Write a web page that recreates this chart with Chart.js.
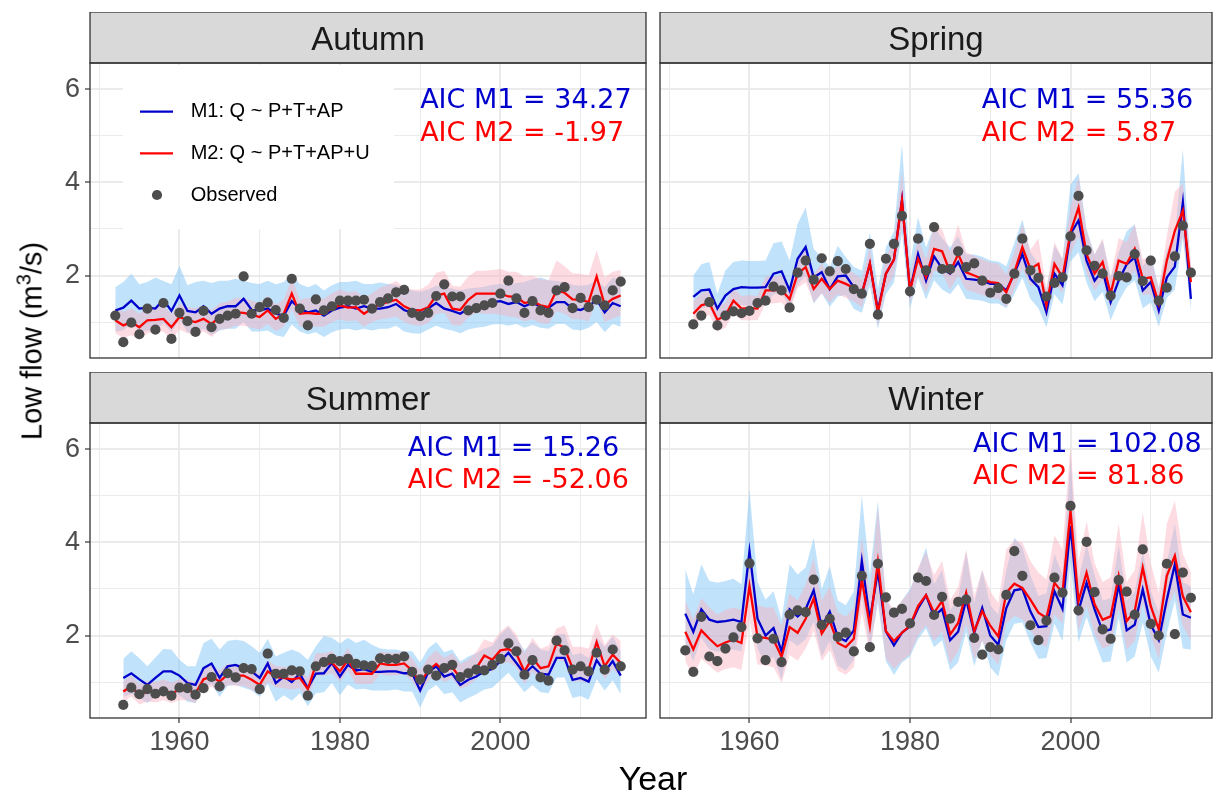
<!DOCTYPE html>
<html>
<head>
<meta charset="utf-8">
<script src="https://cdn.jsdelivr.net/npm/chart.js@4.4.1/dist/chart.umd.min.js"></script>
<style>
  html, body { margin: 0; padding: 0; background: #ffffff; overflow: hidden; }
  #wrap { position: relative; width: 1213px; height: 795px; overflow: hidden; background: #ffffff;
          font-family: "Liberation Sans", Arial, sans-serif; }
  #wrap canvas { position: absolute; }
  #ytitle { position: absolute; left: 32px; top: 341px; transform: translate(-50%, -50%) rotate(-90deg);
            white-space: nowrap; font-size: 29px; line-height: 29px; color: #000; }
  #ytitle sup { font-size: 0.7em; line-height: 0; }
  #xtitle { position: absolute; left: 653px; top: 761px; transform: translateX(-50%);
            font-size: 34px; line-height: 34px; color: #000; white-space: nowrap; }
</style>
</head>
<body>
<div id="wrap">
  <canvas id="c0"></canvas>
  <canvas id="c1"></canvas>
  <canvas id="c2"></canvas>
  <canvas id="c3"></canvas>
  <div id="ytitle">Low flow (m<sup>3</sup>/s)</div>
  <div id="xtitle">Year</div>
</div>
<script>
// ---- data -------------------------------------------------------------
const years = [];
for (let y = 1952; y <= 2015; y++) years.push(y);

const seasons = ['Autumn', 'Spring', 'Summer', 'Winter'];
const aicM1 = [34.27, 55.36, 15.26, 102.08];
const aicM2 = [-1.97, 5.87, -52.06, 81.86];

const xGrid = [1950, 1960, 1970, 1980, 1990, 2000, 2010];
const yGrid = [1, 2, 3, 4, 5, 6];

// Autumn
const autumnObs = [
  1.14,0.57,0.99,0.74,1.29,0.84,1.41,0.64,1.20,1.02,
  0.79,1.24,0.89,1.07,1.14,1.18,1.98,1.18,1.32,1.42,
  1.26,1.09,1.93,1.29,0.93,1.49,1.25,1.34,1.46,1.46,
  1.46,1.48,1.29,1.43,1.51,1.64,1.69,1.20,1.13,1.20,
  1.56,1.81,1.55,1.55,1.25,1.30,1.36,1.41,1.61,1.89,
  1.51,1.20,1.45,1.25,1.20,1.68,1.75,1.30,1.52,1.32,
  1.48,1.36,1.68,1.87];
const autumnM1 = [
  1.25,1.31,1.46,1.29,1.31,1.29,1.48,1.24,1.57,1.24,
  1.21,1.34,1.18,1.29,1.34,1.34,1.50,1.26,1.25,1.29,
  1.18,1.14,1.45,1.29,1.21,1.25,1.14,1.25,1.31,1.34,
  1.29,1.34,1.29,1.29,1.32,1.39,1.26,1.20,1.16,1.29,
  1.41,1.29,1.24,1.18,1.29,1.34,1.37,1.43,1.45,1.39,
  1.43,1.34,1.41,1.34,1.31,1.43,1.43,1.29,1.26,1.34,
  1.48,1.21,1.41,1.34];
const autumnM2 = [
  1.04,0.93,1.00,0.89,1.04,1.05,1.07,0.89,1.11,1.04,
  1.00,1.07,0.96,1.11,1.14,1.21,1.20,1.16,1.11,1.25,
  1.07,1.18,1.61,1.18,1.20,1.18,1.18,1.29,1.36,1.31,
  1.32,1.18,1.29,1.39,1.43,1.48,1.34,1.26,1.25,1.32,
  1.57,1.61,1.29,1.26,1.48,1.61,1.61,1.61,1.61,1.55,
  1.54,1.41,1.45,1.36,1.32,1.68,1.63,1.49,1.48,1.43,
  1.98,1.37,1.50,1.57];
const autumnM1Lo = [
  0.80,0.82,0.98,0.80,0.82,0.80,0.98,0.78,1.05,0.78,
  0.76,0.86,0.72,0.82,0.86,0.86,1.00,0.80,0.80,0.82,
  0.72,0.68,0.95,0.80,0.74,0.78,0.68,0.78,0.84,0.86,
  0.82,0.86,0.82,0.86,0.86,0.92,0.80,0.76,0.75,0.84,
  0.92,0.86,0.82,0.76,0.84,0.88,0.90,0.95,0.96,0.92,
  0.96,0.88,0.94,0.88,0.86,0.96,0.96,0.84,0.82,0.88,
  1.00,0.78,0.96,0.90];
const autumnM1Hi = [
  1.75,1.86,2.04,1.81,1.86,1.96,1.88,1.81,2.21,1.79,
  1.86,1.89,1.84,1.89,1.89,1.93,1.89,1.84,1.82,1.89,
  1.81,1.86,2.04,1.82,1.75,1.82,1.68,1.79,1.86,1.86,
  1.89,1.82,1.82,1.85,1.82,1.80,1.72,1.68,1.65,1.70,
  1.78,1.75,1.72,1.68,1.72,1.74,1.76,1.80,1.82,1.80,
  1.84,1.86,1.92,1.96,1.90,1.88,1.86,1.80,1.78,1.80,
  1.90,1.75,1.96,1.92];
const autumnM2Lo = [
  0.76,0.66,0.72,0.62,0.76,0.78,0.80,0.62,0.84,0.76,
  0.72,0.80,0.68,0.84,0.86,0.92,0.92,0.88,0.84,0.96,
  0.80,0.90,1.28,0.90,0.92,0.90,0.90,1.00,1.06,1.02,
  1.04,0.90,1.00,1.06,1.08,1.12,1.00,0.94,0.92,0.98,
  1.18,1.20,0.94,0.92,1.10,1.20,1.18,1.18,1.16,1.12,
  1.10,1.02,1.06,0.98,0.96,1.24,1.18,1.06,1.06,1.02,
  1.46,1.00,1.08,1.14];
const autumnM2Hi = [
  1.32,1.22,1.30,1.18,1.32,1.34,1.36,1.18,1.40,1.32,
  1.30,1.36,1.26,1.40,1.44,1.52,1.52,1.46,1.42,1.56,
  1.38,1.48,1.95,1.48,1.52,1.50,1.50,1.62,1.70,1.64,
  1.66,1.52,1.62,1.74,1.80,1.88,1.76,1.70,1.70,1.80,
  2.06,2.10,1.78,1.76,1.98,2.10,2.10,2.12,2.14,2.08,
  2.08,1.98,2.00,1.92,1.90,2.32,2.20,2.05,2.04,2.00,
  2.54,1.96,2.08,2.12];

// Spring (series starts in 1953)
const springObs = [
  null,0.95,1.14,1.43,0.93,1.14,1.23,1.19,1.24,1.41,
  1.46,1.76,1.68,1.31,2.06,2.32,1.91,2.37,2.09,2.31,
  2.14,1.71,1.61,2.68,1.16,2.36,2.68,3.28,1.66,2.79,
  2.11,3.04,2.14,2.14,2.52,2.18,2.26,1.89,1.63,1.73,
  1.50,2.04,2.79,2.11,1.95,1.55,1.84,1.96,2.84,3.71,
  2.54,2.21,2.04,1.57,1.99,1.96,2.46,1.88,2.32,1.46,
  1.74,2.41,3.07,2.06];
const springM1 = [
  null,1.54,1.68,1.70,1.29,1.57,1.71,1.75,1.74,1.74,
  1.75,2.04,2.09,1.68,2.36,2.61,1.96,2.07,1.71,1.98,
  2.00,1.75,1.61,2.25,1.25,2.04,2.34,3.62,1.68,2.46,
  1.89,2.41,2.15,2.04,2.29,1.93,1.91,1.89,1.82,1.82,
  1.68,2.04,2.46,1.93,1.75,1.21,2.04,1.79,2.89,3.18,
  2.32,1.89,2.11,1.43,1.89,2.24,2.39,1.68,1.86,1.25,
  1.96,2.19,3.57,1.50];
const springM2 = [
  null,1.18,1.36,1.41,1.05,1.14,1.46,1.29,1.30,1.29,
  1.68,1.68,1.69,1.49,2.04,2.18,1.71,1.93,1.71,1.89,
  1.82,1.73,1.61,2.26,1.21,2.04,2.34,3.61,1.68,2.36,
  1.96,2.57,2.52,2.07,2.46,2.07,2.00,1.93,1.86,1.84,
  1.64,2.07,2.61,2.14,2.25,1.36,2.25,1.96,2.93,3.46,
  2.46,2.04,2.29,1.61,2.32,2.25,2.57,1.93,1.96,1.39,
  2.32,2.96,3.39,1.86];
const springM1Lo = [
  null,1.18,1.30,1.33,0.93,1.20,1.32,1.36,1.35,1.35,
  1.36,1.60,1.63,1.30,1.80,2.00,1.40,1.62,1.33,1.55,
  1.58,1.28,1.20,1.78,0.86,1.60,1.85,2.90,1.28,1.95,
  1.48,1.90,1.70,1.60,1.82,1.50,1.48,1.46,1.40,1.40,
  1.30,1.60,1.95,1.50,1.30,0.89,1.60,1.38,2.30,2.50,
  1.85,1.45,1.65,1.04,1.45,1.75,1.90,1.30,1.42,0.90,
  1.52,1.70,2.80,1.25];
const springM1Hi = [
  null,2.00,2.24,2.29,1.61,2.11,2.29,2.32,2.31,2.31,
  2.32,2.69,2.73,2.32,3.11,3.46,2.57,2.39,2.18,2.64,
  2.39,2.18,2.11,2.93,1.72,2.60,2.95,4.82,2.25,3.25,
  2.60,3.05,2.80,2.60,2.85,2.45,2.45,2.40,2.32,2.30,
  2.20,2.70,3.20,2.50,2.25,1.70,2.65,2.35,3.95,4.20,
  3.00,2.45,2.75,1.95,2.50,2.95,3.10,2.20,2.45,1.75,
  2.55,2.85,4.71,2.10];
const springM2Lo = [
  null,0.92,1.10,1.16,0.80,0.88,1.20,1.04,1.04,1.04,
  1.40,1.40,1.42,1.22,1.74,1.85,1.42,1.62,1.42,1.60,
  1.52,1.44,1.32,1.92,0.92,1.70,2.00,3.05,1.40,2.00,
  1.62,2.10,2.05,1.70,2.00,1.70,1.64,1.58,1.52,1.50,
  1.32,1.70,2.15,1.78,1.80,1.05,1.85,1.62,2.45,2.85,
  2.05,1.68,1.90,1.28,1.90,1.85,2.10,1.58,1.60,1.08,
  1.85,2.30,2.85,1.50];
const springM2Hi = [
  null,1.45,1.62,1.68,1.32,1.42,1.74,1.56,1.58,1.56,
  1.98,1.98,2.00,1.78,2.38,2.55,2.02,2.26,2.02,2.22,
  2.15,2.05,1.92,2.62,1.50,2.40,2.75,4.25,2.00,2.80,
  2.35,3.10,3.00,2.50,3.10,2.50,2.42,2.35,2.28,2.25,
  2.02,2.50,3.10,2.55,2.80,1.72,2.72,2.36,3.45,4.12,
  2.95,2.45,2.80,1.98,2.80,2.72,3.10,2.35,2.40,1.72,
  2.85,3.80,3.98,2.30];

// Summer (series starts in 1953)
const summerObs = [
  null,0.51,0.88,0.74,0.85,0.75,0.80,0.71,0.88,0.87,
  0.73,0.87,1.11,0.91,1.19,1.10,1.30,1.28,0.85,1.61,
  1.18,1.18,1.25,1.23,0.71,1.34,1.43,1.50,1.45,1.50,
  1.39,1.36,1.35,1.51,1.50,1.50,1.55,1.22,1.06,1.27,
  1.14,1.30,1.37,1.11,1.19,1.27,1.25,1.37,1.50,1.83,
  1.66,1.16,1.47,1.10,1.03,1.89,1.68,1.27,1.34,1.23,
  1.63,1.27,1.70,1.34];
const summerM1 = [
  null,1.09,1.19,1.06,0.94,1.09,1.23,1.23,1.14,0.98,
  0.94,1.30,1.40,1.09,1.34,1.37,1.30,1.23,1.09,1.40,
  0.98,1.12,1.00,1.18,0.87,1.18,1.19,1.41,1.12,1.37,
  1.25,1.28,1.22,1.22,1.23,1.23,1.19,1.19,0.82,1.21,
  1.34,1.12,1.18,0.94,1.05,1.12,1.23,1.28,1.45,1.63,
  1.41,1.18,1.34,1.18,1.16,1.52,1.52,1.05,1.09,1.01,
  1.47,1.22,1.45,1.14];
const summerM2 = [
  null,0.80,0.91,0.73,0.80,0.78,0.83,0.76,0.83,0.83,
  0.76,1.06,1.12,1.01,1.16,1.14,1.14,1.05,0.94,1.23,
  1.11,1.09,1.06,1.09,0.85,1.37,1.37,1.42,1.23,1.48,
  1.18,1.18,1.18,1.40,1.37,1.37,1.40,1.25,0.98,1.25,
  1.39,1.23,1.32,1.09,1.16,1.30,1.57,1.48,1.68,1.71,
  1.61,1.23,1.52,1.30,1.34,1.83,1.73,1.30,1.30,1.27,
  1.86,1.34,1.59,1.41];
const summerM1Lo = [
  null,0.68,0.75,0.66,0.55,0.68,0.80,0.80,0.72,0.58,
  0.55,0.88,0.96,0.68,0.92,0.94,0.88,0.82,0.68,0.96,
  0.58,0.72,0.60,0.76,0.48,0.76,0.78,0.98,0.72,0.95,
  0.84,0.86,0.82,0.82,0.82,0.84,0.80,0.80,0.45,0.82,
  0.94,0.74,0.78,0.56,0.66,0.74,0.84,0.88,1.04,1.20,
  1.00,0.78,0.94,0.78,0.76,1.10,1.10,0.66,0.70,0.62,
  1.06,0.82,1.04,0.74];
const summerM1Hi = [
  null,1.50,1.66,1.51,1.34,1.53,1.71,1.70,1.48,1.34,
  1.34,1.84,1.93,1.70,1.88,1.91,1.88,1.77,1.63,1.93,
  1.55,1.63,1.70,1.63,1.48,1.77,1.99,1.95,1.83,1.95,
  1.84,1.91,1.80,1.72,1.70,1.70,1.66,1.66,1.42,1.72,
  1.86,1.64,1.70,1.44,1.55,1.62,1.72,1.78,2.02,2.19,
  1.94,1.68,1.86,1.70,1.66,2.02,2.04,1.58,1.62,1.52,
  1.98,1.75,1.98,1.66];
const summerM2Lo = [
  null,0.58,0.69,0.52,0.58,0.56,0.61,0.55,0.61,0.61,
  0.55,0.84,0.90,0.79,0.94,0.92,0.92,0.84,0.73,1.00,
  0.89,0.87,0.84,0.87,0.64,1.14,1.14,1.19,1.01,1.25,
  0.96,0.96,0.96,1.17,1.14,1.14,1.17,1.02,0.76,1.02,
  1.15,1.00,1.08,0.86,0.93,1.06,1.30,1.22,1.40,1.42,
  1.32,0.96,1.22,1.02,1.06,1.50,1.42,1.02,1.02,0.98,
  1.52,1.06,1.28,1.12];
const summerM2Hi = [
  null,1.02,1.14,0.96,1.03,1.00,1.06,0.99,1.06,1.06,
  0.99,1.30,1.36,1.25,1.40,1.38,1.38,1.29,1.18,1.47,
  1.35,1.33,1.30,1.33,1.09,1.62,1.62,1.67,1.48,1.73,
  1.43,1.43,1.43,1.66,1.63,1.63,1.66,1.52,1.25,1.53,
  1.68,1.52,1.62,1.39,1.48,1.65,1.92,1.85,2.08,2.22,
  2.02,1.62,1.95,1.72,1.78,2.15,2.22,1.76,1.76,1.72,
  2.25,1.80,2.02,1.88];

// Winter
const winterObs = [
  1.68,1.22,2.40,1.55,1.45,1.72,1.96,2.18,3.55,1.94,
  1.47,1.93,1.43,2.45,2.54,2.50,3.20,2.23,2.36,1.97,
  2.06,1.66,3.28,1.75,3.54,2.82,2.49,2.57,2.26,3.24,
  3.17,2.44,2.83,2.36,2.72,2.77,1.95,1.59,1.75,1.70,
  2.87,3.81,3.28,2.22,1.90,2.32,3.24,2.92,4.78,2.54,
  4.01,2.93,2.13,1.93,3.19,2.94,2.45,3.85,2.25,2.00,
  3.54,2.03,3.35,2.81];
const winterM1 = [
  2.47,2.08,2.56,2.34,2.29,2.31,2.34,2.29,3.81,2.36,
  2.00,2.16,1.66,2.56,2.41,2.57,2.97,2.18,2.51,1.97,
  1.88,2.11,3.60,2.34,3.38,2.09,1.79,2.06,2.20,2.58,
  2.86,2.41,2.57,1.90,2.08,2.77,2.06,2.59,2.00,1.80,
  2.59,2.97,3.00,2.52,2.18,2.20,2.95,2.57,4.35,2.54,
  3.13,2.56,2.09,2.13,3.10,2.11,2.23,2.99,2.23,1.90,
  2.77,3.53,2.45,2.38];
const winterM2 = [
  2.08,1.70,2.11,1.93,1.77,1.85,1.91,1.84,3.06,1.97,
  1.95,1.91,1.54,2.18,2.06,2.36,2.79,2.04,2.31,1.84,
  1.75,1.93,3.20,2.20,3.58,2.09,1.88,2.06,2.21,2.63,
  2.87,2.49,2.74,2.02,2.27,2.92,2.09,2.52,2.21,1.98,
  2.92,3.11,3.02,2.77,2.49,2.38,3.13,2.92,4.68,2.74,
  3.35,2.67,2.34,2.41,3.28,2.31,2.52,3.46,2.63,2.13,
  3.28,3.71,2.84,2.50];
const winterM1Lo = [
  1.85,1.45,1.95,1.70,1.65,1.68,1.70,1.66,3.00,1.72,
  1.38,1.55,1.05,1.90,1.78,1.92,2.30,1.55,1.88,1.35,
  1.25,1.48,2.85,1.70,2.70,1.45,1.15,1.42,1.55,1.92,
  2.15,1.75,1.90,1.25,1.42,2.08,1.34,1.90,1.32,1.12,
  1.90,2.25,2.28,1.85,1.50,1.52,2.25,1.88,3.55,1.85,
  2.40,1.88,1.42,1.45,2.38,1.42,1.55,2.28,1.55,1.20,
  2.05,2.75,1.72,1.70];
const winterM1Hi = [
  3.42,2.88,3.53,3.17,3.13,3.17,3.22,3.10,5.14,3.15,
  2.77,2.95,2.34,3.53,3.31,3.46,4.10,2.99,3.49,2.75,
  2.65,2.95,5.00,3.30,4.89,2.80,2.45,2.75,3.00,3.40,
  3.89,3.10,3.40,2.55,2.80,3.80,2.70,3.40,2.65,2.45,
  3.40,4.10,3.90,3.30,2.85,2.90,3.75,3.30,5.80,3.20,
  3.95,3.30,2.75,2.80,3.95,2.75,2.95,3.80,2.95,2.50,
  3.55,4.40,3.15,3.05];
const winterM2Lo = [
  1.45,1.12,1.50,1.35,1.20,1.28,1.32,1.26,2.35,1.38,
  1.36,1.32,0.98,1.58,1.46,1.72,2.10,1.45,1.70,1.25,
  1.16,1.32,2.50,1.60,2.80,1.50,1.28,1.46,1.60,2.00,
  2.22,1.88,2.08,1.40,1.66,2.25,1.48,1.88,1.58,1.38,
  2.25,2.42,2.35,2.12,1.85,1.75,2.45,2.25,3.80,2.10,
  2.65,2.02,1.72,1.78,2.58,1.70,1.88,2.70,2.00,1.50,
  2.55,2.95,2.20,1.90];
const winterM2Hi = [
  2.75,2.35,2.80,2.60,2.45,2.55,2.60,2.55,3.95,2.65,
  2.60,2.60,2.20,2.90,2.75,3.10,3.65,2.75,3.05,2.50,
  2.40,2.60,4.10,2.90,4.75,2.80,2.55,2.75,2.95,3.45,
  3.80,3.30,3.60,2.75,3.05,3.85,2.85,3.40,2.95,2.70,
  3.85,4.05,4.00,3.60,3.35,3.20,4.15,3.85,6.10,3.60,
  4.45,3.55,3.15,3.25,4.40,3.15,3.40,4.64,3.55,2.90,
  4.40,4.89,3.75,3.35];

// ---- layout -----------------------------------------------------------
const STRIP_H = 51, PLOT_H = 295;
const colLeft = [90, 660];
const colWidth = [556, 552];
const colXMax = [2018.15, 2017.63];
const rowTop = [63, 423];
const Y_MIN = 0.23, Y_MAX = 6.56, X_MIN = 1948.85;

const SANS = '"Liberation Sans", Arial, sans-serif';
const AIC_FONT = '"DejaVu Sans", Verdana, sans-serif';
const BLUE = '#0000CD', RED = '#FF0000', DOT = '#4D4D4D';
const LINE_W = 2.3, DOT_R = 5.1;

const panels = [
  { title: seasons[0], col: 0, row: 0, legend: true,
    obs: autumnObs, m1: autumnM1, m2: autumnM2,
    m1Lo: autumnM1Lo, m1Hi: autumnM1Hi, m2Lo: autumnM2Lo, m2Hi: autumnM2Hi,
    aic: 0, aicAt: [1990.0, 5.60, 4.89] },
  { title: seasons[1], col: 1, row: 0, legend: false,
    obs: springObs, m1: springM1, m2: springM2,
    m1Lo: springM1Lo, m1Hi: springM1Hi, m2Lo: springM2Lo, m2Hi: springM2Hi,
    aic: 1, aicAt: [1988.95, 5.60, 4.89] },
  { title: seasons[2], col: 0, row: 1, legend: false,
    obs: summerObs, m1: summerM1, m2: summerM2,
    m1Lo: summerM1Lo, m1Hi: summerM1Hi, m2Lo: summerM2Lo, m2Hi: summerM2Hi,
    aic: 2, aicAt: [1988.45, 5.85, 5.16] },
  { title: seasons[3], col: 1, row: 1, legend: false,
    obs: winterObs, m1: winterM1, m2: winterM2,
    m1Lo: winterM1Lo, m1Hi: winterM1Hi, m2Lo: winterM2Lo, m2Hi: winterM2Hi,
    aic: 3, aicAt: [1987.85, 5.93, 5.25] }
];

function series(vals) {
  return years.map((y, i) => ({ x: y, y: vals[i] })).filter(p => p.y !== null);
}

// strip, panel border, AIC labels and the inset legend
const facetPlugin = {
  id: 'facet',
  afterDraw(chart, args, o) {
    const { ctx, chartArea: a } = chart;
    const xs = chart.scales.x, ys = chart.scales.y;
    ctx.save();
    ctx.fillStyle = '#D9D9D9';
    ctx.fillRect(a.left, a.top - STRIP_H, a.width, STRIP_H);
    ctx.strokeStyle = '#333333';
    ctx.lineWidth = 1.3;
    ctx.strokeRect(a.left, a.top - STRIP_H, a.width, STRIP_H);
    ctx.strokeRect(a.left, a.top, a.width, a.height);

    ctx.fillStyle = '#1A1A1A';
    ctx.font = '33px ' + SANS;
    ctx.textAlign = 'center';
    ctx.textBaseline = 'alphabetic';
    ctx.fillText(o.title, (a.left + a.right) / 2, a.top - STRIP_H + 38);

    ctx.font = '27px ' + AIC_FONT;
    ctx.textAlign = 'left';
    const ax = xs.getPixelForValue(o.aicAt[0]);
    ctx.fillStyle = BLUE;
    ctx.fillText('AIC M1 = ' + aicM1[o.aic].toFixed(2), ax, ys.getPixelForValue(o.aicAt[1]));
    ctx.fillStyle = RED;
    ctx.fillText('AIC M2 = ' + aicM2[o.aic].toFixed(2), ax, ys.getPixelForValue(o.aicAt[2]));

    if (o.legend) {
      const ds = chart.data.datasets;
      ctx.fillStyle = '#FFFFFF';
      ctx.fillRect(a.left + 33, a.top + 2, 271, 164);
      ctx.font = '20px ' + SANS;
      ctx.textBaseline = 'middle';
      const rows = [
        { ds: ds[4], y: a.top + 48.7, line: BLUE },
        { ds: ds[5], y: a.top + 90.3, line: RED },
        { ds: ds[6], y: a.top + 132, line: null }
      ];
      rows.forEach(r => {
        if (r.line) {
          ctx.strokeStyle = r.line;
          ctx.lineWidth = LINE_W;
          ctx.beginPath();
          ctx.moveTo(a.left + 50, r.y);
          ctx.lineTo(a.left + 83, r.y);
          ctx.stroke();
        } else {
          ctx.fillStyle = DOT;
          ctx.beginPath();
          ctx.arc(a.left + 67, r.y, DOT_R, 0, Math.PI * 2);
          ctx.fill();
        }
        ctx.fillStyle = '#000000';
        ctx.fillText(r.ds.label, a.left + 100.7, r.y);
      });
    }
    ctx.restore();
  }
};

panels.forEach((p, k) => {
  const yW = p.col === 0 ? 90 : 0;
  const padL = p.col === 0 ? 0 : 3;
  const padR = 3;
  const xH = p.row === 1 ? 56 : 0;
  const padB = p.row === 1 ? 0 : 3;
  const cv = document.getElementById('c' + k);
  cv.width = padL + yW + colWidth[p.col] + padR;
  cv.height = STRIP_H + PLOT_H + xH + padB;
  cv.style.left = (colLeft[p.col] - yW - padL) + 'px';
  cv.style.top = (rowTop[p.row] - STRIP_H) + 'px';

  const isMajorX = c => c.tick && c.tick.value % 20 === 0;
  const isMajorY = c => c.tick && c.tick.value % 2 === 0;

  new Chart(cv.getContext('2d'), {
    type: 'line',
    data: {
      datasets: [
        { label: 'M1 lower', data: series(p.m1Lo), borderWidth: 0, borderColor: 'rgba(0,0,0,0)',
          pointRadius: 0, fill: false, order: 6 },
        { label: 'M1 band', data: series(p.m1Hi), borderWidth: 0, borderColor: 'rgba(0,0,0,0)',
          pointRadius: 0, fill: '-1', backgroundColor: 'rgba(135,200,245,0.52)', order: 5 },
        { label: 'M2 lower', data: series(p.m2Lo), borderWidth: 0, borderColor: 'rgba(0,0,0,0)',
          pointRadius: 0, fill: false, order: 4 },
        { label: 'M2 band', data: series(p.m2Hi), borderWidth: 0, borderColor: 'rgba(0,0,0,0)',
          pointRadius: 0, fill: '-1', backgroundColor: 'rgba(250,175,190,0.45)', order: 3 },
        { label: 'M1: Q ~ P+T+AP', data: series(p.m1), borderColor: BLUE, borderWidth: LINE_W,
          pointRadius: 0, fill: false, tension: 0, order: 2 },
        { label: 'M2: Q ~ P+T+AP+U', data: series(p.m2), borderColor: RED, borderWidth: LINE_W,
          pointRadius: 0, fill: false, tension: 0, order: 1 },
        { label: 'Observed', data: series(p.obs), showLine: false, pointRadius: DOT_R,
          pointBackgroundColor: DOT, pointBorderWidth: 0, pointBorderColor: 'rgba(0,0,0,0)', order: 0 }
      ]
    },
    options: {
      responsive: false,
      devicePixelRatio: 1,
      animation: false,
      layout: { autoPadding: false, padding: { left: padL, right: padR, top: STRIP_H, bottom: padB } },
      plugins: {
        legend: { display: false },
        tooltip: { enabled: false },
        facet: { title: p.title, aic: p.aic, aicAt: p.aicAt, legend: p.legend }
      },
      scales: {
        x: {
          type: 'linear', min: X_MIN, max: colXMax[p.col],
          afterBuildTicks: s => { s.ticks = xGrid.map(v => ({ value: v })); },
          afterFit: s => { s.height = xH; s.paddingLeft = 0; s.paddingRight = 0; },
          border: { display: false },
          grid: {
            color: '#EBEBEB', lineWidth: c => isMajorX(c) ? 2 : 1,
            drawTicks: p.row === 1, tickLength: 5, tickWidth: 1.2,
            tickColor: c => isMajorX(c) ? '#333333' : 'rgba(0,0,0,0)'
          },
          ticks: {
            display: p.row === 1, autoSkip: false, maxRotation: 0, padding: 3,
            color: '#4D4D4D', font: { family: SANS, size: 27 },
            callback: v => v % 20 === 0 ? String(v) : ''
          }
        },
        y: {
          type: 'linear', min: Y_MIN, max: Y_MAX,
          afterBuildTicks: s => { s.ticks = yGrid.map(v => ({ value: v })); },
          afterFit: s => { s.width = yW; s.paddingTop = 0; s.paddingBottom = 0; },
          border: { display: false },
          grid: {
            color: '#EBEBEB', lineWidth: c => isMajorY(c) ? 2 : 1,
            drawTicks: p.col === 0, tickLength: 5, tickWidth: 1.2,
            tickColor: c => isMajorY(c) ? '#333333' : 'rgba(0,0,0,0)'
          },
          ticks: {
            display: p.col === 0, padding: 5,
            color: '#4D4D4D', font: { family: SANS, size: 27 },
            callback: v => v % 2 === 0 ? String(v) : ''
          }
        }
      }
    },
    plugins: [facetPlugin]
  });
});
</script>
</body>
</html>
